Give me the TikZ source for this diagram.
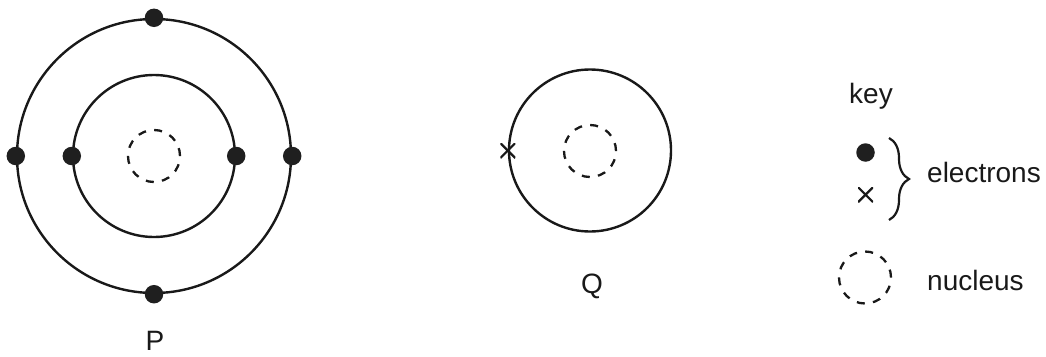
\documentclass[tikz,border=0pt]{standalone}
\usepackage{fontspec}
\setmainfont{Liberation Sans}
\usetikzlibrary{decorations.pathreplacing}
\tikzset{
  shell/.style={circle, draw=black!90, line width=2.4pt, inner sep=0pt},
  nucl/.style={circle, draw=black!90, line width=2.3pt, dash pattern=on 8pt off 8.3pt, inner sep=0pt, minimum size=52pt},
  elec/.style={circle, fill=black!88, inner sep=0pt, minimum size=18.5pt},
  xmark/.style={inner sep=0pt, minimum size=15pt, path picture={
      \draw[line width=2.2pt, black!90] (path picture bounding box.south west) -- (path picture bounding box.north east)
        (path picture bounding box.north west) -- (path picture bounding box.south east);}},
  lbl/.style={font=\fontsize{28}{34}\selectfont, inner sep=0pt, text=black!90}
}
\begin{document}
\begin{tikzpicture}[x=1pt,y=-1pt]
\useasboundingbox (0,0) rectangle (1046,356);
% Atom P
\node[shell, minimum size=274pt] (Pout) at (154,156) {};
\node[shell, minimum size=162pt] (Pin) at (154,156) {};
\node[nucl] (Pnuc) at (154,156) {};
\node[elec] (Pe1) at (Pout.north) {};
\node[elec] (Pe2) at (Pout.south) {};
\node[elec] (Pe3) at (Pout.west) {};
\node[elec] (Pe4) at (Pout.east) {};
\node[elec] (Pe5) at (Pin.west) {};
\node[elec] (Pe6) at (Pin.east) {};
\node[lbl, anchor=base] (Plbl) at (155,350) {P};
% Atom Q
\node[shell, minimum size=162pt] (Qsh) at (590,150.5) {};
\node[nucl] (Qnuc) at (590,151) {};
\node[xmark] (Qe1) at (Qsh.west) {};
\node[lbl, anchor=base] (Qlbl) at (592,293) {Q};
% Key
\node[lbl, anchor=base west] (key) at (849,103) {key};
\node[elec] (kdot) at (865.5,152.5) {};
\node[xmark] (kx) at (865.5,194.7) {};
\coordinate (bt) at (889,138);
\coordinate (bb) at (889,220);
\draw[line width=2.2pt, black!90, decorate, decoration={brace, amplitude=20pt, aspect=0.5}] (bt) -- (bb);
\node[lbl, anchor=base west] (elbl) at (927,182) {electrons};
\node[nucl] (knuc) at (865,277.5) {};
\node[lbl, anchor=base west] (nlbl) at (927,290) {nucleus};
\end{tikzpicture}
\end{document}
